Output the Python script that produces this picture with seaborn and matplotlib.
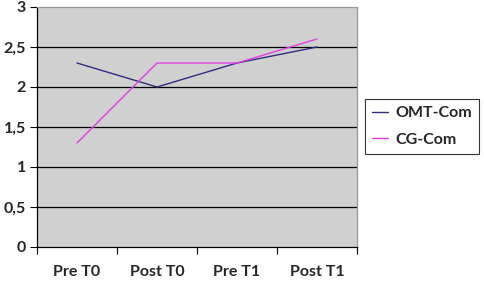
import matplotlib
matplotlib.use("Agg")
import matplotlib.pyplot as plt
import seaborn as sns
import pandas as pd
from matplotlib.lines import Line2D

categories = ["Pre T0", "Post T0", "Pre T1", "Post T1"]
omt_com = [2.3, 2.0, 2.3, 2.5]
cg_com = [1.3, 2.3, 2.3, 2.6]
series_names = ["OMT-Com", "CG-Com"]
y_ticks = [0, 0.5, 1, 1.5, 2, 2.5, 3]
y_labels = ["0", "0,5", "1", "1,5", "2", "2,5", "3"]

df = pd.DataFrame({
    "x": list(range(len(categories))) * 2,
    "value": omt_com + cg_com,
    "series": [series_names[0]] * len(categories) + [series_names[1]] * len(categories),
})

sns.set_style("white")
plt.rcParams["font.family"] = ["Lato", "DejaVu Sans"]

fig = plt.figure(figsize=(4.84, 2.83), dpi=100)
ax = fig.add_axes([37/484, 1-247/283, 320/484, 240/283])
ax.set_facecolor("#d0d0d0")

sns.lineplot(data=df, x="x", y="value", hue="series",
             palette={"OMT-Com": "#2e2e80", "CG-Com": "#e040e0"},
             linewidth=1.0, ax=ax, legend=False)

ax.set_xlim(-0.5, len(categories) - 0.5)
ax.set_ylim(0, 3)
for yv in y_ticks[1:-1]:
    ax.axhline(yv, color="black", linewidth=0.9, zorder=0.5)

ax.set_xticks([i - 0.5 for i in range(len(categories) + 1)])
ax.set_xticklabels([])
ax.set_xticks(range(len(categories)), minor=True)
ax.set_xticklabels(categories, minor=True, fontsize=11.5, fontweight="bold")
ax.tick_params(axis="x", which="major", length=5, width=0.8, color="black", direction="out", bottom=True)
ax.tick_params(axis="x", which="minor", length=0, pad=13)
ax.set_yticks(y_ticks)
ax.set_yticklabels(y_labels, fontsize=11.5, fontweight="bold")
ax.tick_params(axis="y", length=5, width=0.8, color="black", direction="out", left=True, pad=3)
ax.set_xlabel("")
ax.set_ylabel("")

for s in ["left", "bottom"]:
    ax.spines[s].set_color("black")
    ax.spines[s].set_linewidth(0.9)
for s in ["top", "right"]:
    ax.spines[s].set_color("#999999")
    ax.spines[s].set_linewidth(0.9)

handles = [Line2D([], [], color="#2e2e80", linewidth=1.0),
           Line2D([], [], color="#e040e0", linewidth=1.0)]
leg = fig.legend(handles, series_names, loc="upper left",
                 bbox_to_anchor=(365/484, 1-99/283), frameon=True,
                 prop={"size": 11.5, "weight": "bold"}, fancybox=False,
                 handlelength=1.0, borderpad=0.45, labelspacing=0.75, handletextpad=0.45,
                 borderaxespad=0)
leg.get_frame().set_edgecolor("black")
leg.get_frame().set_linewidth(0.8)

fig.savefig("out.png", dpi=100)
